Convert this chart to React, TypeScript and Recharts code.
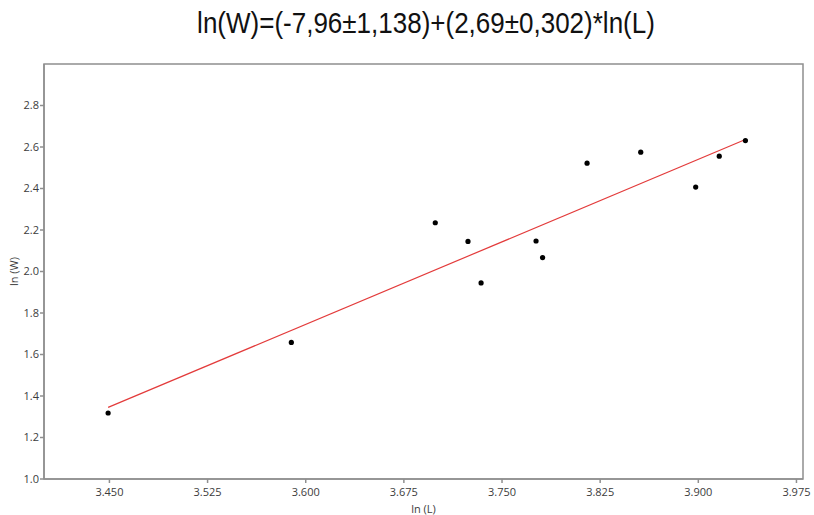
import { ScatterChart, Scatter, XAxis, YAxis, ReferenceArea, Label } from 'recharts'

// ln(L) / ln(W) pairs of the sample
const lnL = [3.449, 3.589, 3.699, 3.724, 3.734, 3.776, 3.781, 3.815, 3.856, 3.898, 3.916, 3.936]
const lnW = [1.318, 1.658, 2.235, 2.145, 1.945, 2.147, 2.067, 2.522, 2.575, 2.407, 2.556, 2.631]

// ends of the fitted line
const fitL = [3.449, 3.936]
const fitW = [1.345, 2.636]

const xTicks = [3.45, 3.525, 3.6, 3.675, 3.75, 3.825, 3.9, 3.975]
const yTicks = [1.0, 1.2, 1.4, 1.6, 1.8, 2.0, 2.2, 2.4, 2.6, 2.8]

const titre = 'ln(W)=(-7,96±1,138)+(2,69±0,302)*ln(L)'

const points = lnL.map((x, i) => ({ x, y: lnW[i] }))
const droite = fitL.map((x, i) => ({ x, y: fitW[i] }))

const axeCouleur = '#8f8f8f'
const texteStyle = { fontSize: 11, fill: '#3c3c3c', fontFamily: '"Open Sans", sans-serif' }

function Point(props: any) {
  return <circle cx={props.cx} cy={props.cy} r={2.6} fill="#000" />
}

export default function App() {
  return (
    <div style={{ position: 'absolute', left: 0, top: 0, width: 814, height: 515, background: '#fff' }}>
      <div
        style={{
          position: 'absolute',
          left: 0,
          top: 10,
          width: 852,
          textAlign: 'center',
          fontFamily: '"Liberation Sans", Arial, sans-serif',
          fontSize: 26,
          color: '#111',
          whiteSpace: 'nowrap',
          transform: 'scaleY(1.14)',
          transformOrigin: 'center bottom'
        }}
      >
        {titre}
      </div>
      <ScatterChart width={814} height={515} margin={{ top: 64, right: 11, bottom: 0, left: 14 }}>
        <XAxis
          type="number"
          dataKey="x"
          domain={[3.4, 3.98]}
          ticks={xTicks}
          allowDataOverflow
          tickFormatter={(v: number) => v.toFixed(3)}
          stroke={axeCouleur}
          strokeWidth={1.5}
          tickSize={4}
          tickMargin={5}
          tick={texteStyle}
          height={36}
        >
          <Label value="ln (L)" position="insideBottom" offset={2} style={texteStyle} />
        </XAxis>
        <YAxis
          type="number"
          dataKey="y"
          domain={[1, 3]}
          ticks={yTicks}
          allowDataOverflow
          tickFormatter={(v: number) => v.toFixed(1)}
          stroke={axeCouleur}
          strokeWidth={1.5}
          tickSize={4}
          tickMargin={1}
          tick={texteStyle}
          width={30}
        >
          <Label value="ln (W)" angle={-90} position="insideLeft" offset={0} style={{ ...texteStyle, textAnchor: 'middle' }} />
        </YAxis>
        <ReferenceArea x1={3.4} x2={3.98} y1={1} y2={3} fill="none" stroke={axeCouleur} strokeWidth={1.5} />
        <Scatter
          data={droite}
          line={{ stroke: '#e33b3b', strokeWidth: 1.2 }}
          shape={() => <g />}
          isAnimationActive={false}
        />
        <Scatter data={points} shape={Point} isAnimationActive={false} />
      </ScatterChart>
    </div>
  )
}
